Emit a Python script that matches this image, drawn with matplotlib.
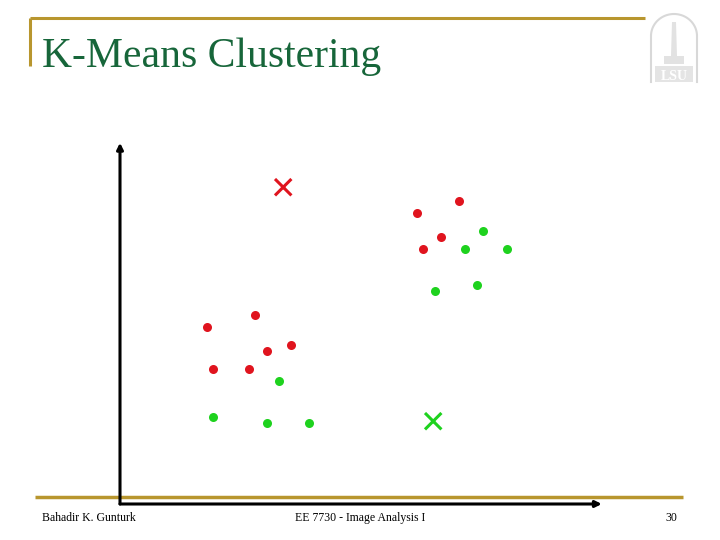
import numpy as np
import matplotlib.pyplot as plt
from matplotlib.patches import FancyArrowPatch

# cluster points (data units, origin at the axes corner)
red_x = [49.5, 56.5, 53.5, 50.5, 14.5, 22.5, 24.5, 28.5, 15.5, 21.5]
red_y = [48.5, 50.5, 44.5, 42.5, 29.5, 31.5, 25.5, 26.5, 22.5, 22.5]
green_x = [60.5, 57.5, 64.5, 52.5, 59.5, 26.5, 15.5, 24.5, 31.5]
green_y = [45.5, 42.5, 42.5, 35.5, 36.5, 20.5, 14.5, 13.5, 13.5]
# cluster centres
centre_x = [27.2, 52.2]
centre_y = [52.8, 13.8]
centre_colors = ['#e0141e', '#1ed21e']

title = "K-Means Clustering"
footer_left = "Bahadir K. Gunturk"
footer_mid = "EE 7730 - Image Analysis I"
footer_right = "30"

GOLD = '#b8962e'
SERIF = ['Liberation Serif', 'DejaVu Serif']

fig = plt.figure(figsize=(7.2, 5.4), dpi=100)
fig.patch.set_facecolor('white')

# slide overlay in pixel coordinates
bg = fig.add_axes([0, 0, 1, 1])
bg.set_xlim(0, 720)
bg.set_ylim(540, 0)
bg.axis('off')

bg.plot([30, 645], [18, 18], color=GOLD, lw=2.2, solid_capstyle='butt')
bg.plot([30, 30], [18, 66], color=GOLD, lw=2.2, solid_capstyle='butt')
bg.plot([35, 683], [497, 497], color=GOLD, lw=2.5, solid_capstyle='butt')

bg.text(42, 67, title, family=SERIF, fontsize=30, color='#17663a', va='baseline')

bg.text(42, 521, footer_left, family=SERIF, fontsize=8.5, va='baseline')
bg.text(360, 521, footer_mid, family=SERIF, fontsize=8.5, va='baseline', ha='center')
bg.text(677, 521, footer_right, family=SERIF, fontsize=8.5, va='baseline', ha='right')

# faint LSU logo: arch outline, tower, base
t = np.linspace(np.pi, 0, 50)
arch_x = np.r_[651, 674 + 23 * np.cos(t), 697]
arch_y = np.r_[82, 36 - 22 * np.sin(t), 82]
bg.plot(arch_x, arch_y, color='#d8d8d8', lw=1.5)
bg.fill([672, 676, 677, 671], [22, 22, 56, 56], color='#e2e2e2', lw=0)
bg.fill([664, 684, 684, 664], [56, 56, 64, 64], color='#e2e2e2', lw=0)
bg.fill([655, 693, 693, 655], [66, 66, 82, 82], color='#e4e4e4', lw=0)
bg.text(674, 80, "LSU", family=SERIF, fontsize=10, color='white', ha='center', va='baseline',
        fontweight='bold')

# plot area
ax = fig.add_axes([120 / 720, 36 / 540, 480 / 720, 360 / 540])
ax.set_xlim(0, 80)
ax.set_ylim(0, 60)
ax.axis('off')
ax.patch.set_alpha(0)

ax.add_patch(FancyArrowPatch((0, 0), (0, 60.2), arrowstyle='-|>', mutation_scale=9,
                             color='black', lw=2.2, shrinkA=0, shrinkB=0, clip_on=False))
ax.add_patch(FancyArrowPatch((0, 0), (80.3, 0), arrowstyle='-|>', mutation_scale=9,
                             color='black', lw=2.2, shrinkA=0, shrinkB=0, clip_on=False))

ax.plot(red_x, red_y, 'o', color='#e0141e', ms=6.5, mec='none')
ax.plot(green_x, green_y, 'o', color='#1ed21e', ms=6.5, mec='none')
ax.scatter(centre_x, centre_y, marker='x', s=140, c=centre_colors, linewidths=2.2)

fig.savefig('out.png', dpi=100)
